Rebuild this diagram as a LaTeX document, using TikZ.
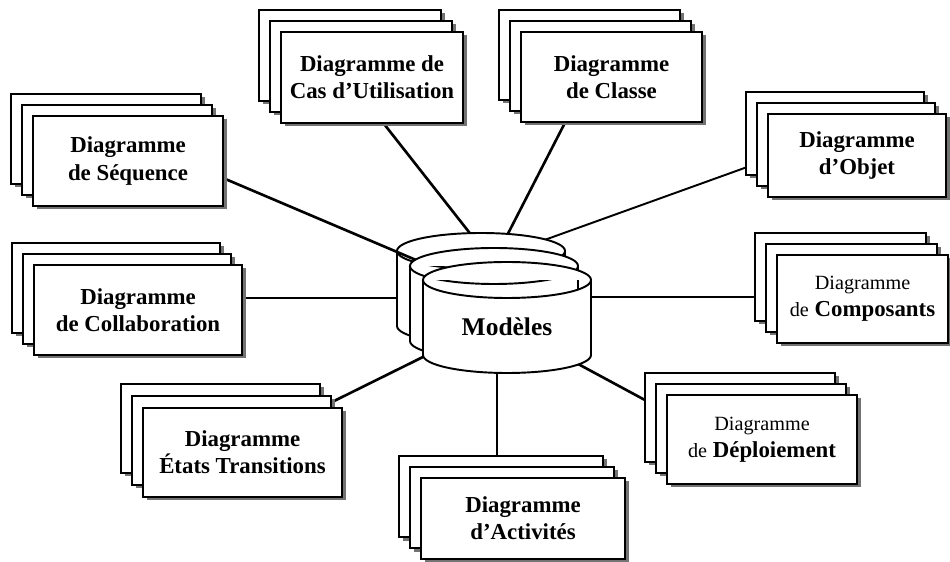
\documentclass[tikz,border=0pt]{standalone}
\usepackage{fontspec}
\setmainfont{Liberation Serif}
\usetikzlibrary{shadows,backgrounds}

\begin{document}
\begin{tikzpicture}[x=0.2mm, y=0.2mm,
  sheet/.style 2 args={draw, line width=1.5pt, fill=white, minimum width=#1*0.2mm, minimum height=#2*0.2mm, align=center, font=\fontsize{13}{15.5}\selectfont\bfseries, drop shadow={shadow xshift=0.7mm, shadow yshift=-0.7mm, fill=black!55, opacity=1}},
  base/.style={draw, line width=1.1pt, fill=white},
  link/.style={line width=1.5pt}
]
  \useasboundingbox (0,0) rectangle (950,561);

  % central stack of models
  \foreach \cx/\yt/\yb in {481/310/235, 494/295/220, 507/281/206}
    \draw[base] (\cx-84,\yt) -- (\cx-84,\yb) arc[start angle=180, end angle=360, x radius=16.8mm, y radius=3.6mm]
      -- (\cx+84,\yt) arc[start angle=0, end angle=180, x radius=16.8mm, y radius=3.6mm] -- cycle
      (\cx+84,\yt) arc[start angle=0, end angle=-180, x radius=16.8mm, y radius=3.6mm];
  \node[font=\fontsize{14.5}{17}\selectfont\bfseries] (mod) at (507,234) {Modèles};

  % diagram sheets
  \foreach \k in {2,1} \node[sheet={182}{91}] (cas\k) at (372-11*\k, 483.5+11*\k) {};
  \node[sheet={182}{91}] (cas) at (372,483.5) {Diagramme de\\Cas d’Utilisation};

  \foreach \k in {2,1} \node[sheet={181}{90}] (cls\k) at (611.5-11*\k, 484+11*\k) {};
  \node[sheet={181}{90}] (cls) at (611.5,484) {Diagramme\\de Classe};

  \foreach \k in {2,1} \node[sheet={190}{90}] (seq\k) at (128-11*\k, 400+11*\k) {};
  \node[sheet={190}{90}] (seq) at (128,400) {Diagramme\\de Séquence};

  \foreach \k in {2,1} \node[sheet={178}{83}] (obj\k) at (857-11*\k, 405.5+11*\k) {};
  \node[sheet={178}{83}] (obj) at (857,405.5) {Diagramme\\d’Objet};

  \foreach \k in {2,1} \node[sheet={208}{90}] (col\k) at (138-11*\k, 251+11*\k) {};
  \node[sheet={208}{90}] (col) at (138,251) {Diagramme\\de Collaboration};

  \foreach \k in {2,1} \node[sheet={171}{88}] (cmp\k) at (862.5-11*\k, 262+11*\k) {};
  \node[sheet={171}{88}] (cmp) at (862.5,262) {{\mdseries\fontsize{11.5}{16}\selectfont Diagramme}\\{\mdseries\fontsize{11.5}{16}\selectfont de} Composants};

  \foreach \k in {2,1} \node[sheet={199}{89}] (etat\k) at (242.5-11*\k, 108.5+12*\k) {};
  \node[sheet={199}{89}] (etat) at (242.5,108.5) {Diagramme\\États Transitions};

  \foreach \k in {2,1} \node[sheet={190}{89}] (dep\k) at (762-11*\k, 121.5+11*\k) {};
  \node[sheet={190}{89}] (dep) at (762,121.5) {{\mdseries\fontsize{11.5}{16}\selectfont Diagramme}\\{\mdseries\fontsize{11.5}{16}\selectfont de} Déploiement};

  \foreach \k in {2,1} \node[sheet={204}{81}] (act\k) at (523-11*\k, 42.5+11*\k) {};
  \node[sheet={204}{81}] (act) at (523,42.5) {Diagramme\\d’Activités};

  % links, hidden ends
  \coordinate (hCas) at (487,306);   \coordinate (eCas) at (366,460);
  \coordinate (hCls) at (497,306);   \coordinate (eCls) at (571,450);
  \coordinate (hObj) at (525,314);   \coordinate (eObj) at (757,397.5);
  \coordinate (hSeq) at (423,298);   \coordinate (eSeq) at (203,391.5);
  \coordinate (hCol) at (420,263);   \coordinate (eCol) at (230,263);
  \coordinate (hCmp) at (580,264);   \coordinate (eCmp) at (790,264);
  \coordinate (hEtat) at (429,207);  \coordinate (eEtat) at (324,155);
  \coordinate (hAct) at (497,201);   \coordinate (eAct) at (497,91);
  \coordinate (hDep) at (567,203);   \coordinate (eDep) at (656,155);

  \begin{scope}[on background layer]
    \draw[link] (hCas) -- (eCas);
    \draw[link] (hCls) -- (eCls);
    \draw[link, line width=1.1pt] (hObj) -- (eObj);
    \draw[link] (hSeq) -- (eSeq);
    \draw[link, line width=1.2pt] (hCol) -- (eCol);
    \draw[link] (hCmp) -- (eCmp);
    \draw[link] (hEtat) -- (eEtat);
    \draw[link] (hAct) -- (eAct);
    \draw[link] (hDep) -- (eDep);
  \end{scope}
\end{tikzpicture}
\end{document}
